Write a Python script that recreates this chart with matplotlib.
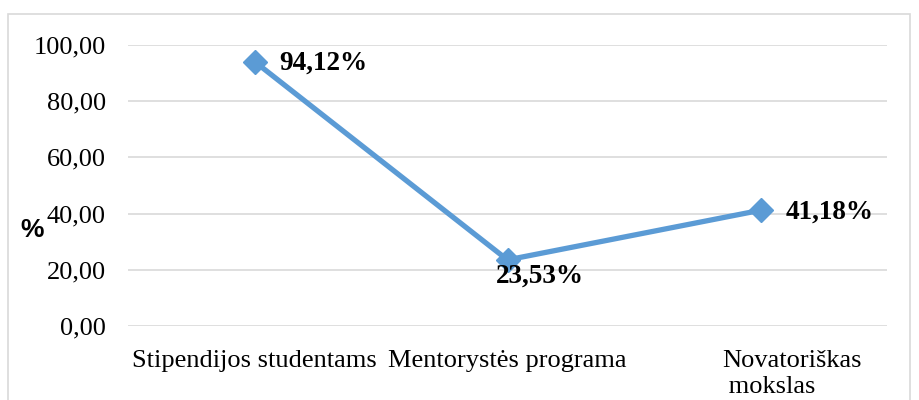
import matplotlib.pyplot as plt
import matplotlib.transforms as mtransforms
from matplotlib.patches import Rectangle

# Data
categories = ["Stipendijos studentams", "Mentorystės programa", "Novatoriškas\n mokslas"]
values = [94.12, 23.53, 41.18]
value_labels = ["94,12%", "23,53%", "41,18%"]
yticks = [0, 20, 40, 60, 80, 100]
ytick_labels = ["0,00", "20,00", "40,00", "60,00", "80,00", "100,00"]

plt.rcParams['font.family'] = ['Liberation Serif', 'DejaVu Serif']
lineColor = '#5B9BD5'

fig = plt.figure(figsize=(9.19, 4.0), dpi=100)
fig.patches.append(Rectangle((8 / 919, -0.1), 902 / 919, 1 - 14 / 400 + 0.1,
                             transform=fig.transFigure, fill=False,
                             edgecolor='#D9D9D9', linewidth=1.2))
ax = fig.add_axes([128 / 919, 1 - 326 / 400, 759 / 919, 281 / 400])

xs = list(range(len(values)))
ax.plot(xs, values, color=lineColor, linewidth=3.8, marker='D', markersize=12,
        markerfacecolor=lineColor, markeredgecolor=lineColor, zorder=3)

ax.set_xlim(-0.5, len(values) - 0.5)
ax.set_ylim(0, 100)
ax.set_yticks(yticks)
ax.set_yticklabels(ytick_labels, fontsize=19)
ax.set_xticks(xs)
ax.set_xticklabels(categories, fontsize=19, linespacing=1.25)
ax.tick_params(axis='both', length=0)
ax.tick_params(axis='y', pad=16)
ax.tick_params(axis='x', pad=17)
ax.grid(axis='y', color='#D9D9D9', linewidth=1.2)
ax.set_axisbelow(True)
for s in ax.spines.values():
    s.set_visible(False)

# wrapped last label sits left-aligned like Excel
lbl = ax.get_xticklabels()[2]
lbl.set_horizontalalignment('left')
lbl.set_multialignment('left')
lbl.set_transform(lbl.get_transform() + mtransforms.ScaledTranslation(-38 / 100, 0, fig.dpi_scale_trans))

# data labels
ax.annotate(value_labels[0], (xs[0], values[0]), xytext=(18, -1), textcoords='offset points',
            ha='left', va='center', fontsize=19.5, fontweight='bold')
ax.annotate(value_labels[1], (xs[1], values[1]), xytext=(23, -11.5), textcoords='offset points',
            ha='center', va='center', fontsize=19.5, fontweight='bold')
ax.annotate(value_labels[2], (xs[2], values[2]), xytext=(18, -1), textcoords='offset points',
            ha='left', va='center', fontsize=19.5, fontweight='bold')

fig.text(32 / 919, 1 - 230 / 400, "%", fontsize=19, fontweight='bold',
         family=['Liberation Sans', 'DejaVu Sans'], ha='center', va='center')

fig.savefig('out.png', dpi=100)
